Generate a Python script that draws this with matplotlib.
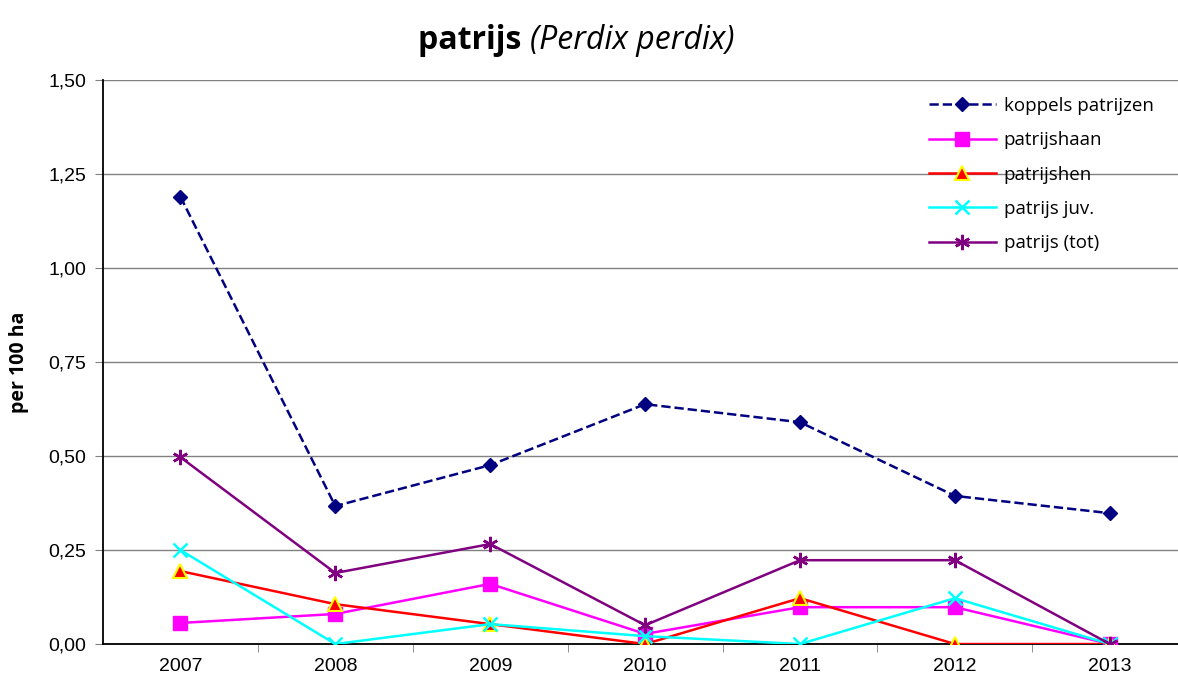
import matplotlib
matplotlib.use("Agg")
import matplotlib.pyplot as plt
from matplotlib.ticker import MultipleLocator, FuncFormatter

# ==================== DATA ====================
years = ["2007", "2008", "2009", "2010", "2011", "2012", "2013"]
koppels = [1.19, 0.367, 0.476, 0.638, 0.59, 0.394, 0.348]
haan = [0.056, 0.08, 0.16, 0.027, 0.098, 0.098, 0.0]
hen = [0.194, 0.106, 0.053, 0.0, 0.122, 0.0, 0.0]
juv = [0.25, 0.0, 0.053, 0.021, 0.0, 0.122, 0.0]
tot = [0.497, 0.189, 0.266, 0.05, 0.223, 0.223, 0.0]
# ==============================================

fig = plt.figure(figsize=(11.78, 6.79), dpi=100)
ax = fig.add_axes([0.0874, 0.0515, 0.9126, 0.8305])

x = list(range(len(years)))
ax.plot(x, koppels, color="#000080", ls="--", lw=1.8, marker="D", ms=7,
        label="koppels patrijzen", zorder=5)
ax.plot(x, haan, color="#FF00FF", lw=1.8, marker="s", ms=10,
        label="patrijshaan", zorder=4)
ax.plot(x, hen, color="#FF0000", lw=1.8, marker="^", ms=10, mfc="#FF0000",
        mec="#FFFF00", mew=1.5, label="patrijshen", zorder=4)
ax.plot(x, juv, color="#00FFFF", lw=1.8, marker="x", ms=10, mew=1.8,
        label="patrijs juv.", zorder=4)
ax.plot(x, tot, color="#800080", lw=1.8, marker=(6, 2, 0), ms=11, mew=1.8,
        label="patrijs (tot)", zorder=4)

ax.set_xlim(-0.5, 6.44)
ax.set_ylim(0, 1.5)
ax.yaxis.set_major_locator(MultipleLocator(0.25))
ax.yaxis.set_major_formatter(FuncFormatter(lambda v, p: f"{v:.2f}".replace(".", ",")))
ax.grid(axis="y", color="#808080", lw=1)
ax.set_axisbelow(True)

ax.set_xticks(x)
ax.set_xticklabels(years)
ax.set_xticks([i + 0.5 for i in range(len(years) - 1)], minor=True)
ax.tick_params(axis="x", which="major", length=0, pad=10)
ax.tick_params(axis="x", which="minor", length=6, color="#808080", direction="out")
ax.tick_params(axis="y", length=6, direction="out", color="#808080", pad=6)
for lab in ax.get_xticklabels() + ax.get_yticklabels():
    lab.set_fontfamily("Liberation Sans")
    lab.set_fontsize(14)

ax.spines["right"].set_visible(False)
ax.spines["top"].set_visible(False)
ax.spines["left"].set_color("black")
ax.spines["bottom"].set_color("black")
ax.spines["left"].set_linewidth(1.3)
ax.spines["bottom"].set_linewidth(1.3)

ax.set_ylabel("per 100 ha", fontfamily="Open Sans", fontweight="bold", fontsize=14, labelpad=14)

t1 = fig.text(0.355, 0.928, "patrijs ", fontfamily="Open Sans", fontweight="bold", fontsize=23)
fig.canvas.draw()
ax.annotate("(Perdix perdix)", xy=(1, 0), xycoords=t1, va="bottom", ha="left",
            fontfamily="Open Sans", fontstyle="italic", fontsize=23, annotation_clip=False)

leg = ax.legend(loc="upper right", bbox_to_anchor=(0.993, 1.0), frameon=False,
                prop={"family": "Open Sans", "size": 13.5}, handlelength=3.6,
                labelspacing=0.87, handletextpad=0.4)

fig.savefig("out.png", dpi=100)
